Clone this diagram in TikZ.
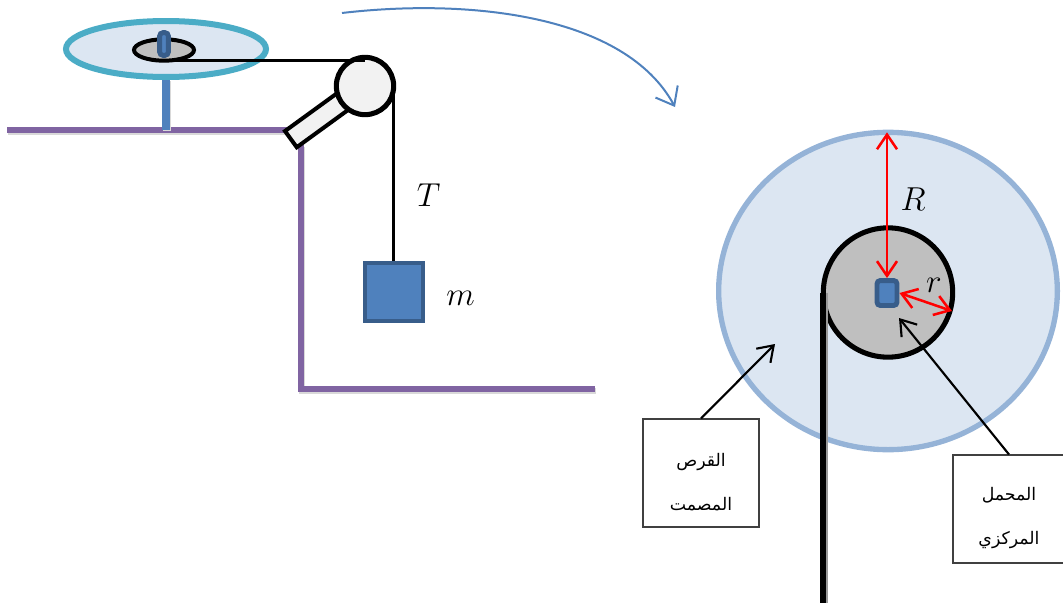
\documentclass[tikz,border=0pt]{standalone}
\usepackage{fontspec}
\usetikzlibrary{positioning,arrows.meta,calc,shapes.geometric}
\newfontfamily\arabicfont[Script=Arabic]{DejaVu Sans}
\TeXXeTstate=1
\definecolor{tablecol}{HTML}{8064A2}
\definecolor{blockcol}{HTML}{4F81BD}
\definecolor{blockedge}{HTML}{385D8A}
\definecolor{rimcol}{HTML}{4BACC6}
\definecolor{diskcol}{HTML}{DCE6F2}
\definecolor{bigrim}{HTML}{95B3D7}
\tikzstyle{disk}=[ellipse, draw=rimcol, fill=diskcol, line width=4.5pt, minimum width=150pt, minimum height=42pt, inner sep=0pt]
\tikzstyle{bearing}=[draw=black, fill=black!25, inner sep=0pt, outer sep=0pt]
\tikzstyle{pin}=[rectangle, rounded corners=2.5pt, draw=blockedge, fill=blockcol, line width=3.7pt, inner sep=0pt]
\tikzstyle{pulley}=[circle, draw=black, fill=black!5, line width=3.8pt, minimum size=43pt, inner sep=0pt, outer sep=0pt]
\tikzstyle{arm}=[rectangle, draw=black, fill=black!5, line width=3pt, minimum width=54pt, minimum height=15pt, inner sep=0pt, rotate=36]
\tikzstyle{mass}=[rectangle, draw=blockedge, fill=blockcol, line width=3pt, minimum size=43pt, inner sep=0pt]
\tikzstyle{note}=[rectangle, draw=black!75, fill=white, line width=0.8pt, minimum width=87pt, minimum height=81pt, inner sep=0pt, align=center, font=\arabicfont\fontsize{13}{33}\selectfont]
\tikzstyle{sym}=[inner sep=0pt, font=\fontsize{23}{23}\selectfont]
\tikzstyle{line}=[-, line width=2.4pt, black]
\tikzstyle{shade}=[preaction={draw=black!15, line width=4.4pt, transform canvas={xshift=1pt, yshift=-1.6pt}}]
\tikzstyle{table}=[-, line width=3.8pt, tablecol, shade]
\tikzstyle{rline}=[{Straight Barb[length=11pt,width=15pt]}-{Straight Barb[length=11pt,width=15pt]}, line width=1.9pt, red]
\tikzstyle{pointer}=[-{Straight Barb[length=11pt,width=15pt]}, line width=1.6pt, black]
\begin{document}
\begin{tikzpicture}[x=0.75pt,y=-0.75pt]
    \useasboundingbox (0,0) rectangle (1063,603);

% table
    \coordinate (tl) at (7,130);
    \coordinate (tr) at (292,130);
    \coordinate (legtop) at (301,145);
    \coordinate (legbot) at (301,389);
    \coordinate (floor) at (595,389);
    \draw[table] (tl) -- (tr);
    \draw[table] (legtop) -- (legbot) -- (floor);

% small view
    \node (topdisk) [disk] at (166,49) {};
    \coordinate (shaftfoot) at (topdisk.south |- tl);
    \draw[line width=6pt, blockcol, preaction={draw=black!15, line width=6pt, transform canvas={xshift=1pt, yshift=-1pt}}] (topdisk.south) -- (shaftfoot);
    \node (tophub) [bearing, ellipse, line width=3pt, minimum width=45pt, minimum height=16pt] at (164,50) {};
    \node (arm) [arm] at (320,118) {};
    \node (wheel) [pulley] at (365,86) {};
    \draw[line] (tophub.south) -- (tophub.south -| wheel.north);
    \node (toppin) [pin, minimum width=6.5pt, minimum height=17pt] at (164,44) {};
    \node (block) [mass] at (394,292) {};
    \draw[line] (wheel.east) -- (wheel.east |- block.north);
    \node (tlabel) [sym, above right=41pt and 17pt of block.north] {$T$};
    \node (mlabel) [sym, right=16pt of block, yshift=-4.5pt] {$m$};

% curved arrow to the big view
    \coordinate (curvea) at (342,13);
    \coordinate (curveb) at (675,107);
    \draw[-{Straight Barb[length=12pt,width=19pt]}, line width=1.5pt, blockcol] (curvea) .. controls (470,-2) and (625,15) .. (curveb);

% big view
    \node (bigdisk) [ellipse, draw=bigrim, fill=diskcol, line width=4pt, minimum width=254pt, minimum height=238pt, inner sep=0pt, outer sep=0pt] at (888,291) {};
    \node (bighub) [bearing, circle, line width=3.8pt, minimum size=97pt] at (888,292.5) {};
    \coordinate (stringend) at (bighub.west |- 0,603);
    \draw[line width=4.6pt, black, preaction={draw=black!40, line width=4.6pt, transform canvas={xshift=1.5pt}}] (bighub.west) -- (stringend);
    \node (bigpin) [pin, minimum width=15pt, minimum height=18.7pt] at (887,293) {};
    \coordinate (rimpt) at (952,311);
    \draw[rline] (bigdisk.north -| bigpin.north) -- (bigpin.north);
    \draw[rline] (bigpin.east) -- (rimpt);
    \node (rlabel) [sym] at (913,199) {$R$};
    \node (slabel) [sym] at (934,285) {$r$};

% labels
    \node (disknote) [note] at (701,473) {\rule{0pt}{24pt}\beginR القرص\endR\\\beginR المصمت\endR};
    \node (hubnote) [note, minimum width=84pt] at (1009,509) {\rule{0pt}{24pt}\beginR المحمل\endR\\\beginR المركزي\endR};
    \coordinate (diskpt) at (775,344);
    \coordinate (hubpt) at (899,318);
    \draw[pointer] (disknote.north) -- (diskpt);
    \draw[pointer] (hubnote.north) -- (hubpt);
\end{tikzpicture}
\end{document}
